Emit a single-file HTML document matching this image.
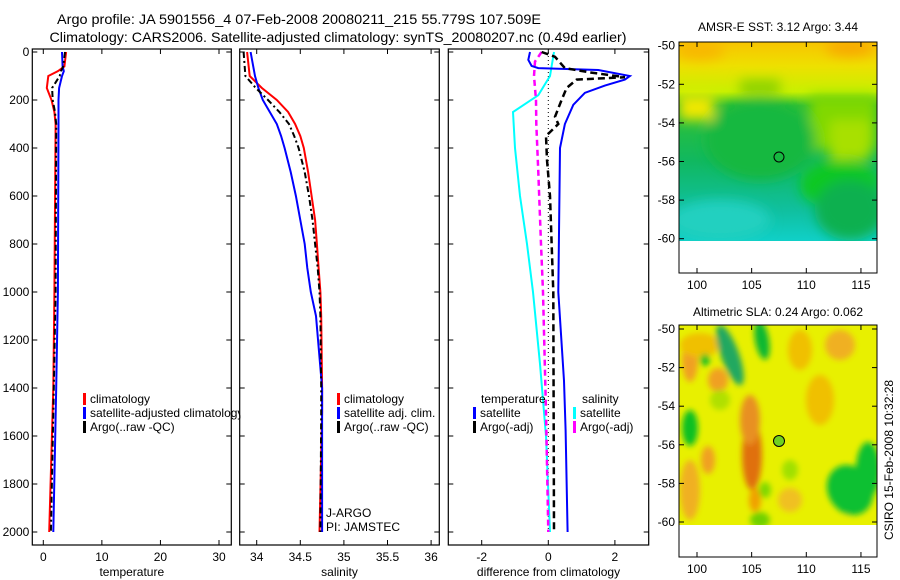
<!DOCTYPE html>
<html><head><meta charset="utf-8"><style>
body{margin:0;background:#fff;}
svg{display:block;font-family:"Liberation Sans",sans-serif;}
</style></head><body>
<svg id="fig" width="900" height="580" viewBox="0 0 900 580">
<defs>
<filter id="blur6"><feGaussianBlur stdDeviation="6"/></filter>
<filter id="blur3"><feGaussianBlur stdDeviation="3"/></filter>
<clipPath id="m1clip"><rect x="679" y="42" width="198" height="199"/></clipPath>
<clipPath id="m2clip"><rect x="679" y="325" width="198" height="200"/></clipPath>
<linearGradient id="sstg" x1="0" y1="0" x2="0" y2="1">
<stop offset="0" stop-color="#f8c400"/><stop offset="0.12" stop-color="#eee000"/><stop offset="0.25" stop-color="#c8f000"/>
<stop offset="0.32" stop-color="#30c030"/><stop offset="0.6" stop-color="#10b860"/><stop offset="0.85" stop-color="#10c0a0"/><stop offset="1" stop-color="#10d0c8"/>
</linearGradient>
</defs>
<text x="299" y="24" font-size="14" text-anchor="middle" textLength="484" lengthAdjust="spacingAndGlyphs">Argo profile: JA 5901556_4 07-Feb-2008 20080211_215 55.779S 107.509E</text>
<text x="338" y="42" font-size="14" text-anchor="middle" textLength="577" lengthAdjust="spacingAndGlyphs">Climatology: CARS2006. Satellite-adjusted climatology: synTS_20080207.nc (0.49d earlier)</text>
<g id="panels"></g>
<g id="maps">
 <g clip-path="url(#m1clip)">
  <rect x="679" y="42" width="198" height="199" fill="url(#sstg)"/>
  <g filter="url(#blur6)">
   <rect x="679" y="95" width="35" height="25" fill="#f0e800"/>
   <rect x="740" y="80" width="40" height="15" fill="#8ad000"/>
   <rect x="810" y="95" width="67" height="55" fill="#80d800"/>
   <rect x="830" y="120" width="40" height="40" fill="#a8e000"/>
   <ellipse cx="760" cy="140" rx="55" ry="40" fill="#18b840"/>
   <ellipse cx="840" cy="185" rx="40" ry="25" fill="#10c820"/>
   <ellipse cx="720" cy="220" rx="50" ry="20" fill="#20d0c0"/>
   <ellipse cx="850" cy="210" rx="35" ry="30" fill="#10b050"/>
   <ellipse cx="700" cy="50" rx="25" ry="10" fill="#f8b800"/>
   <ellipse cx="850" cy="48" rx="25" ry="8" fill="#f8a800"/>
  </g>
 </g>
 <rect x="679" y="42" width="198" height="231" fill="none" stroke="#000"/>
 <circle cx="779" cy="157" r="5" fill="none" stroke="#000"/>
 <text x="778" y="31" font-size="12" text-anchor="middle">AMSR-E SST: 3.12 Argo: 3.44</text>
 <g clip-path="url(#m2clip)">
  <rect x="679" y="325" width="198" height="200" fill="#e8f000"/>
  <g filter="url(#blur3)">
   <ellipse cx="690" cy="360" rx="8" ry="22" fill="#f0a020"/>
   <ellipse cx="700" cy="345" rx="20" ry="12" fill="#f0c000"/>
   <ellipse cx="752" cy="455" rx="10" ry="35" fill="#e07010"/>
   <ellipse cx="750" cy="420" rx="10" ry="25" fill="#e89020"/>
   <ellipse cx="755" cy="500" rx="6" ry="12" fill="#f0a000"/>
   <ellipse cx="718" cy="380" rx="10" ry="12" fill="#f0a020"/>
   <ellipse cx="708" cy="460" rx="7" ry="14" fill="#f0a020"/>
   <ellipse cx="690" cy="490" rx="10" ry="30" fill="#f0b020"/>
   <ellipse cx="840" cy="345" rx="15" ry="15" fill="#f0b020"/>
   <ellipse cx="820" cy="400" rx="14" ry="25" fill="#f0c000"/>
   <ellipse cx="800" cy="350" rx="12" ry="20" fill="#f0c000"/>
   <ellipse cx="850" cy="500" rx="12" ry="15" fill="#f0b020"/>
   <ellipse cx="790" cy="500" rx="12" ry="12" fill="#f0c020"/>
   <ellipse cx="762" cy="340" rx="7" ry="20" fill="#10b830" transform="rotate(-10 762 340)"/>
   <ellipse cx="730" cy="355" rx="9" ry="32" fill="#20a860" transform="rotate(-20 730 355)"/>
   <ellipse cx="690" cy="428" rx="8" ry="18" fill="#10c020"/>
   <ellipse cx="705" cy="360" rx="5" ry="6" fill="#20c020"/>
   <ellipse cx="850" cy="490" rx="22" ry="26" fill="#10c030" transform="rotate(-30 850 490)"/>
   <ellipse cx="868" cy="470" rx="12" ry="28" fill="#10c030"/>
   <ellipse cx="760" cy="520" rx="10" ry="8" fill="#70d000"/>
   <ellipse cx="790" cy="470" rx="8" ry="10" fill="#a0e000"/>
   <ellipse cx="765" cy="490" rx="6" ry="8" fill="#80d800"/>
   <ellipse cx="720" cy="400" rx="10" ry="10" fill="#b0e000"/>
  </g>
 </g>
 <rect x="679" y="325" width="198" height="232" fill="none" stroke="#000"/>
 <circle cx="779" cy="441" r="5.5" fill="#70d020" stroke="#000"/>
 <text x="778" y="316" font-size="12" text-anchor="middle">Altimetric SLA: 0.24 Argo: 0.062</text>
 <text transform="translate(893,460) rotate(-90)" font-size="12" text-anchor="middle">CSIRO 15-Feb-2008 10:32:28</text>
 <g id="mapaxes"></g>
</g>
</svg>
<script>
const NS="http://www.w3.org/2000/svg";
// ---- data ----
const tempDepths=[0,60,80,100,150,200,250,300,1000,1400,2000];
const tempClim=[3.9,3.6,2.5,0.85,0.6,1.4,1.9,2.1,1.9,1.7,1.0];
const tempSat=[3.2,3.3,3.5,3.2,2.7,2.6,2.6,2.6,2.5,2.2,1.7];
const tempArgo=[3.7,3.4,3.0,2.8,1.5,1.6,2.0,2.2,2.1,1.8,1.3];
const salDepths=[0,100,150,200,250,300,350,400,500,600,700,800,900,1000,1100,1400,1500,2000];
const salClim=[33.89,33.92,34.06,34.23,34.36,34.44,34.50,34.54,34.59,34.63,34.67,34.69,34.71,34.73,34.74,34.75,34.75,34.72];
const salSat=[33.93,33.98,34.02,34.07,34.15,34.23,34.28,34.32,34.39,34.45,34.50,34.55,34.58,34.62,34.68,34.75,34.75,34.75];
const salArgo=[33.85,33.87,33.99,34.13,34.26,34.37,34.43,34.48,34.55,34.60,34.64,34.67,34.70,34.72,34.73,34.74,34.74,34.73];
const diffDepths1=[0,33,58,67,75,100,115,140,170,220,300,400,1000,1370,1575,2000];
const diffTempSat=[-0.55,-0.6,-0.5,-0.3,1.5,2.45,2.3,1.7,1.1,0.75,0.5,0.35,0.3,0.47,0.52,0.58];
const diffDepths2=[0,20,67,85,105,115,150,200,270,300,350,450,600,1000,2000];
const diffTempArgo=[-0.2,0.2,0.5,1.25,2.3,0.85,0.55,0.4,0.2,0.3,-0.07,-0.04,0.05,0.15,0.17];
const diffDepths3=[0,100,180,250,400,600,800,1000,1300,1600,2000];
const diffSalSat=[0.17,0.05,-0.3,-1.06,-1.0,-0.85,-0.64,-0.46,-0.25,-0.07,0.05];
const diffDepths4=[0,40,100,200,300,500,800,1000,1500,2000];
const diffSalArgo=[-0.2,-0.4,-0.43,-0.37,-0.36,-0.3,-0.22,-0.16,-0.07,0];
const depthTicks=[0,200,400,600,800,1000,1200,1400,1600,1800,2000];
const tempTicks=[0,10,20,30];
const salTicks=[34,34.5,35,35.5,36];
const diffTicks=[-2,0,2];
const latTicks=[-50,-52,-54,-56,-58,-60];
const lonTicks=[100,105,110,115];
// ---- axes ----
const yD=d=>52+d*0.24;
const yTop=52-3, yBot=545;
function mk(tag,attrs,parent){const e=document.createElementNS(NS,tag);for(const k in attrs)e.setAttribute(k,attrs[k]);parent.appendChild(e);return e;}
const P=document.getElementById('panels');
function panel(name,x0,x1,vmin,vmax,ticks,label,showY){
  const xs=v=>x0+(v-vmin)/(vmax-vmin)*(x1-x0);
  const g=mk('g',{},P);
  
  
  const fr=mk('rect',{x:x0,y:yTop,width:x1-x0,height:yBot-yTop,fill:'none',stroke:'#000','stroke-width':1.2},g);
  
  
  ticks.forEach(t=>{const x=xs(t);
    mk('line',{x1:x,x2:x,y1:yBot,y2:yBot-5,stroke:'#000'},g);
    mk('line',{x1:x,x2:x,y1:yTop,y2:yTop+5,stroke:'#000'},g);
    const tx=mk('text',{x:x,y:yBot+16,'font-size':12,'text-anchor':'middle'},g);tx.textContent=String(t);
    
    
  });
  depthTicks.forEach(d=>{const y=yD(d);
    mk('line',{x1:x0,x2:x0+5,y1:y,y2:y,stroke:'#000'},g);
    mk('line',{x1:x1,x2:x1-5,y1:y,y2:y,stroke:'#000'},g);
    if(showY){const tx=mk('text',{x:x0-3,y:y+4,'font-size':12,'text-anchor':'end'},g);tx.textContent=String(d);
      
      }
  });
  const lb=mk('text',{x:(x0+x1)/2,y:yBot+31,'font-size':12,'text-anchor':'middle'},g);lb.textContent=label;
  
  
  return {xs,g};
}
function line(pn,name,depths,vals,color,dash,w){
  const pts=depths.map((d,i)=>pn.xs(vals[i]).toFixed(1)+','+yD(d).toFixed(1)).join(' ');
  const l=mk('polyline',{points:pts,fill:'none',stroke:color,'stroke-width':w||2,'stroke-dasharray':dash||'none'},pn.g);
  
  
}
function legend(g,x,y,color,text,name){
  mk('rect',{x:x,y:y-10,width:3,height:12,fill:color},g);
  const t=mk('text',{x:x+7,y:y,'font-size':12},g);t.textContent=text;
  
  
}
const p1=panel('temperature',32.3,231.3,(32.3-43.3)/5.857,(231.3-43.3)/5.857,tempTicks,'temperature',true);
line(p1,'temp-climatology-line',tempDepths,tempClim,'#f00');
line(p1,'temp-satellite-line',tempDepths,tempSat,'#00f');
line(p1,'temp-argo-line',tempDepths,tempArgo,'#000','6,3,2,3');
legend(p1.g,83,403,'#f00','climatology','temp-legend-climatology');
legend(p1.g,83,417,'#00f','satellite-adjusted climatology','temp-legend-satellite');
legend(p1.g,83,431,'#000','Argo(..raw -QC)','temp-legend-argo');
mk('rect',{x:240.4,y:404,width:16,height:16,fill:'#fff'},P);
const p2=panel('salinity',239.7,439.3,34+(239.7-256.7)/87.2,34+(439.3-256.7)/87.2,salTicks,'salinity',false);
line(p2,'sal-climatology-line',salDepths,salClim,'#f00');
line(p2,'sal-satellite-line',salDepths,salSat,'#00f');
line(p2,'sal-argo-line',salDepths,salArgo,'#000','6,3,2,3');
legend(p2.g,337,403,'#f00','climatology','sal-legend-climatology');
legend(p2.g,337,417,'#00f','satellite adj. clim.','sal-legend-satellite');
legend(p2.g,337,431,'#000','Argo(..raw -QC)','sal-legend-argo');
const j1=mk('text',{x:326,y:517,'font-size':12},p2.g);j1.textContent='J-ARGO';


const j2=mk('text',{x:326,y:531,'font-size':12},p2.g);j2.textContent='PI: JAMSTEC';


const p3=panel('difference',448.3,648.7,(448.3-548.3)/33.3,(648.7-548.3)/33.3,diffTicks,'difference from climatology',false);
mk('line',{x1:p3.xs(0),x2:p3.xs(0),y1:yD(0),y2:yD(2000),stroke:'#000','stroke-dasharray':'1,3'},p3.g);
line(p3,'diff-sal-satellite-line',diffDepths3,diffSalSat,'#0ff');
line(p3,'diff-sal-argo-line',diffDepths4,diffSalArgo,'#f0f','6,4',2.5);
line(p3,'diff-temp-satellite-line',diffDepths1,diffTempSat,'#00f');
line(p3,'diff-temp-argo-line',diffDepths2,diffTempArgo,'#000','7,4',2.5);
const lt=mk('text',{x:481,y:403,'font-size':12},p3.g);lt.textContent='temperature';


const ls=mk('text',{x:582,y:403,'font-size':12},p3.g);ls.textContent='salinity';


legend(p3.g,473,417,'#00f','satellite','diff-legend-temp-satellite');
legend(p3.g,473,431,'#000','Argo(-adj)','diff-legend-temp-argo');
legend(p3.g,573,417,'#0ff','satellite','diff-legend-sal-satellite');
legend(p3.g,573,431,'#f0f','Argo(-adj)','diff-legend-sal-argo');
const MA=document.getElementById('mapaxes');
function mapAxes(name,y0,yB,latY50,latY60){
  const ly=v=>latY50+(v+50)/(-10)*(latY60-latY50);
  const lx=v=>697+(v-100)*10.93;
  latTicks.forEach(t=>{const y=ly(t);
    mk('line',{x1:679,x2:684,y1:y,y2:y,stroke:'#000'},MA);
    mk('line',{x1:877,x2:872,y1:y,y2:y,stroke:'#000'},MA);
    const tx=mk('text',{x:675,y:y+4,'font-size':12,'text-anchor':'end'},MA);tx.textContent=String(t);
    
    
  });
  lonTicks.forEach(t=>{const x=lx(t);
    mk('line',{x1:x,x2:x,y1:y0,y2:y0+5,stroke:'#000'},MA);
    mk('line',{x1:x,x2:x,y1:yB,y2:yB-5,stroke:'#000'},MA);
    const tx=mk('text',{x:x,y:yB+16,'font-size':12,'text-anchor':'middle'},MA);tx.textContent=String(t);
    
    
  });
}
mapAxes('sst-map',42,273,45.7,238.7);
mapAxes('sla-map',325,557,329,522);
</script>
</body></html>
